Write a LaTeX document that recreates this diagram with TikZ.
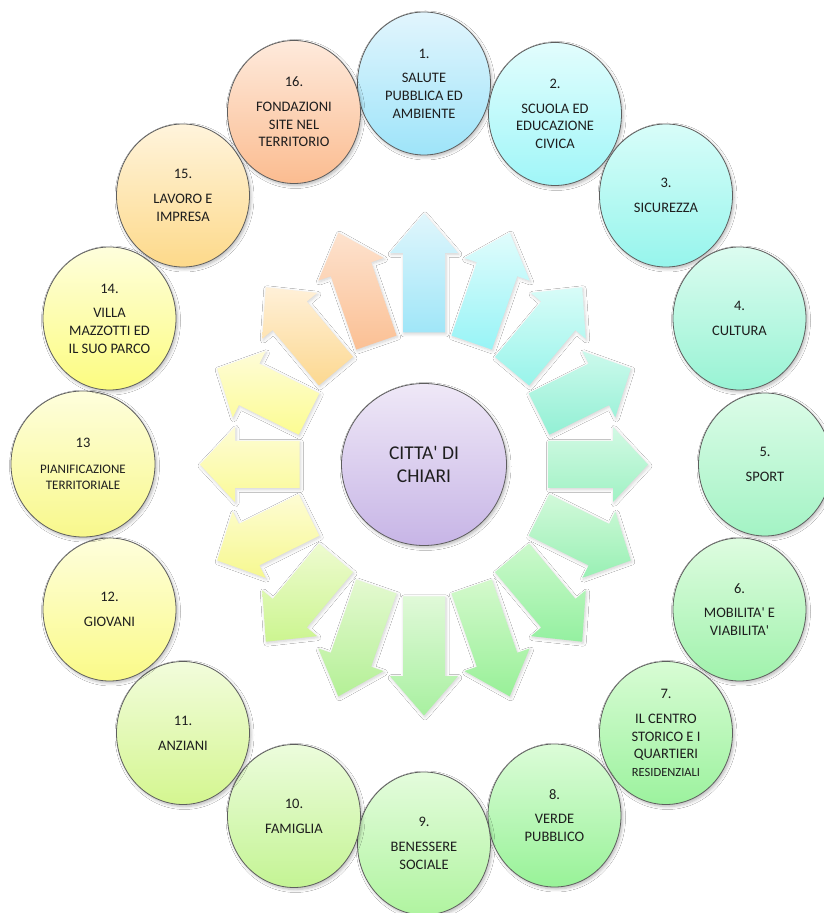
\documentclass[tikz,border=0pt]{standalone}
\usepackage{fontspec}
\setmainfont{Carlito}[Ligatures=TeXOff]
\usetikzlibrary{shapes.geometric,shadows.blur}
% circle colours (top / bottom)
\definecolor{b1t}{HTML}{E2F5FD}\definecolor{b1b}{HTML}{9EE4F9}
\definecolor{b2t}{HTML}{E2FDFD}\definecolor{b2b}{HTML}{A0F6F8}
\definecolor{b3t}{HTML}{D8FDF9}\definecolor{b3b}{HTML}{96F5EC}
\definecolor{b4t}{HTML}{DCFCF0}\definecolor{b4b}{HTML}{98F3D4}
\definecolor{b5t}{HTML}{DCFCE8}\definecolor{b5b}{HTML}{A3F3C4}
\definecolor{b6t}{HTML}{DEFCE0}\definecolor{b6b}{HTML}{A0F2AC}
\definecolor{b7t}{HTML}{D8FCD4}\definecolor{b7b}{HTML}{9CF29E}
\definecolor{b8t}{HTML}{DCFCD8}\definecolor{b8b}{HTML}{98F298}
\definecolor{b9t}{HTML}{E4FCDC}\definecolor{b9b}{HTML}{B0F4A0}
\definecolor{b10t}{HTML}{ECFCDC}\definecolor{b10b}{HTML}{C4F494}
\definecolor{b11t}{HTML}{F2FCDC}\definecolor{b11b}{HTML}{D4F690}
\definecolor{b12t}{HTML}{FEFEDC}\definecolor{b12b}{HTML}{FAFA88}
\definecolor{b13t}{HTML}{FEFEDC}\definecolor{b13b}{HTML}{F8F88C}
\definecolor{b14t}{HTML}{FEFEDC}\definecolor{b14b}{HTML}{FCFC80}
\definecolor{b15t}{HTML}{FFF4DC}\definecolor{b15b}{HTML}{FDD98A}
\definecolor{b16t}{HTML}{FEEADC}\definecolor{b16b}{HTML}{FBBC90}
\definecolor{cent}{HTML}{EFE8F7}\definecolor{cenb}{HTML}{C7B5E6}
% arrow colours (top / bottom), index k = 0..15 clockwise from top
\definecolor{ar0t}{HTML}{E0F6FC}\definecolor{ar0b}{HTML}{A0E6F8}
\definecolor{ar1t}{HTML}{E0FCFC}\definecolor{ar1b}{HTML}{98F4F6}
\definecolor{ar2t}{HTML}{D8FCF8}\definecolor{ar2b}{HTML}{98F4EA}
\definecolor{ar3t}{HTML}{CCF9EC}\definecolor{ar3b}{HTML}{92F0D4}
\definecolor{ar4t}{HTML}{D2F9E4}\definecolor{ar4b}{HTML}{A0F2C4}
\definecolor{ar5t}{HTML}{D2F9DA}\definecolor{ar5b}{HTML}{98F0B4}
\definecolor{ar6t}{HTML}{CCF9CC}\definecolor{ar6b}{HTML}{94F0A0}
\definecolor{ar7t}{HTML}{D4F9CC}\definecolor{ar7b}{HTML}{98F098}
\definecolor{ar8t}{HTML}{E0F9D8}\definecolor{ar8b}{HTML}{A8F0A0}
\definecolor{ar9t}{HTML}{E4F9D0}\definecolor{ar9b}{HTML}{B4F096}
\definecolor{ar10t}{HTML}{EEFBD0}\definecolor{ar10b}{HTML}{CCF590}
\definecolor{ar11t}{HTML}{FEFCD4}\definecolor{ar11b}{HTML}{F6F890}
\definecolor{ar12t}{HTML}{FEFCD4}\definecolor{ar12b}{HTML}{FAFA98}
\definecolor{ar13t}{HTML}{FEFCD8}\definecolor{ar13b}{HTML}{FCFC92}
\definecolor{ar14t}{HTML}{FFF0D8}\definecolor{ar14b}{HTML}{FCD890}
\definecolor{ar15t}{HTML}{FDE2CE}\definecolor{ar15b}{HTML}{FBC094}
\definecolor{bubline}{HTML}{5E5E5E}
\definecolor{txt}{HTML}{1E1E1E}
\tikzset{
  softshadow/.style={blur shadow={shadow xshift=1.5pt,shadow yshift=-2pt,shadow opacity=28,shadow blur radius=3pt,shadow blur steps=6}},
  arrowshadow/.style={blur shadow={shadow xshift=1pt,shadow yshift=-1.5pt,shadow opacity=18,shadow blur radius=3pt,shadow blur steps=6}},
  bub/.style={ellipse, draw=bubline, line width=0.8pt, minimum width=133pt, minimum height=143pt,
    inner sep=0pt, align=center, text=txt, font=\fontsize{14.5}{17.7}\selectfont, softshadow},
  centre/.style={ellipse, draw=bubline, line width=0.8pt, minimum width=165pt, minimum height=162pt,
    inner sep=0pt, align=center, text=txt, font=\fontsize{19.5}{23.4}\selectfont, top color=cent, bottom color=cenb, softshadow},
}
\begin{document}
\begin{tikzpicture}[x=1pt,y=1pt]
\useasboundingbox (0,0) rectangle (824,913);
\fill[white] (0,0) rectangle (824,913);
\coordinate (cc) at (424,448.5);
% arrows
\foreach \k in {0,...,15} {
  \pgfmathsetmacro\aS{sin(22.5*\k)}
  \pgfmathsetmacro\aC{cos(22.5*\k)}
  \pgfmathsetmacro\aBx{124.5*\aS}
  \pgfmathsetmacro\aBy{132*\aC}
  \pgfmathsetmacro\aTx{224*\aS}
  \pgfmathsetmacro\aTy{251*\aC}
  \pgfmathsetmacro\aLen{veclen(\aTx-\aBx,\aTy-\aBy)}
  \pgfmathsetmacro\aPh{atan2(\aTy-\aBy,\aTx-\aBx)}
  \pgfmathsetmacro\aW{21+2.5*\aS*\aS}
  \pgfmathsetmacro\aH{34+3.5*\aS*\aS}
  \pgfmathsetmacro\aHl{39.4-4.4*\aS*\aS}
  \shade[top color=ar\k t, bottom color=ar\k b, arrowshadow, shift={(cc)}, shift={(\aBx,\aBy)}, rotate=\aPh]
    (0,-\aW) -- (\aLen-\aHl,-\aW) -- (\aLen-\aHl,-\aH) -- (\aLen,0) -- (\aLen-\aHl,\aH) -- (\aLen-\aHl,\aW) -- (0,\aW) -- cycle;
}
% centre
\node[centre] (c0) at (cc) {CITTA' DI\\CHIARI};
% outer circles
\node[bub, top color=b1t, bottom color=b1b] (n1) at (424,829.5) {1.\\[7pt]SALUTE\\PUBBLICA ED\\AMBIENTE};
\node[bub, top color=b2t, bottom color=b2b] (n2) at (555,799) {2.\\[7pt]SCUOLA ED\\EDUCAZIONE\\CIVICA};
\node[bub, top color=b3t, bottom color=b3b] (n3) at (666,717.5) {3.\\[7pt]SICUREZZA};
\node[bub, top color=b4t, bottom color=b4b] (n4) at (739.5,594.5) {4.\\[7pt]CULTURA};
\node[bub, top color=b5t, bottom color=b5b] (n5) at (765,448.5) {5.\\[7pt]SPORT};
\node[bub, top color=b6t, bottom color=b6b] (n6) at (739.5,303.5) {6.\\[7pt]MOBILITA' E\\VIABILITA'};
\node[bub, top color=b7t, bottom color=b7b] (n7) at (666,180) {7.\\[7pt]IL CENTRO\\STORICO E I\\QUARTIERI\\{\fontsize{12.5}{16}\selectfont RESIDENZIALI}};
\node[bub, top color=b8t, bottom color=b8b] (n8) at (554.5,97.5) {8.\\[7pt]VERDE\\PUBBLICO};
\node[bub, top color=b9t, bottom color=b9b] (n9) at (424,69.5) {9.\\[7pt]BENESSERE\\SOCIALE};
\node[bub, top color=b10t, bottom color=b10b] (n10) at (294,97) {10.\\[7pt]FAMIGLIA};
\node[bub, top color=b11t, bottom color=b11b] (n11) at (183,180) {11.\\[7pt]ANZIANI};
\node[bub, top color=b12t, bottom color=b12b] (n12) at (109.5,303.5) {12.\\[7pt]GIOVANI};
\node[bub, minimum width=144pt, minimum height=146pt, font=\fontsize{13}{16.4}\selectfont, top color=b13t, bottom color=b13b] (n13) at (83,449) {{\fontsize{14.5}{17}\selectfont 13}\\[9pt]PIANIFICAZIONE\\TERRITORIALE};
\node[bub, top color=b14t, bottom color=b14b] (n14) at (109.5,594.5) {14.\\[7pt]VILLA\\MAZZOTTI ED\\IL SUO PARCO};
\node[bub, top color=b15t, bottom color=b15b] (n15) at (183,717.5) {15.\\[7pt]LAVORO E\\IMPRESA};
\node[bub, top color=b16t, bottom color=b16b] (n16) at (294,801) {16.\\[7pt]FONDAZIONI\\SITE NEL\\TERRITORIO};
\end{tikzpicture}
\end{document}
